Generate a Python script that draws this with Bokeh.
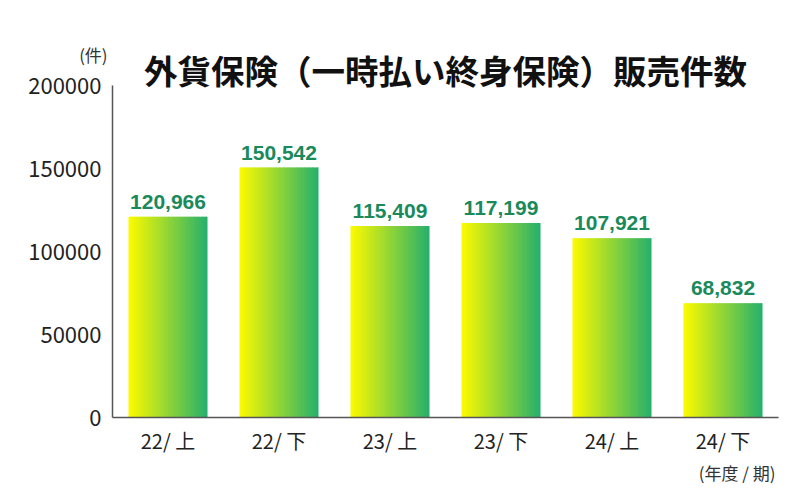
from bokeh.plotting import figure
from bokeh.models import (ColumnDataSource, FactorRange, Title, LinearAxis,
                          FixedTicker, NumeralTickFormatter)
from bokeh.transform import dodge
from bokeh.embed import file_html
from bokeh.resources import INLINE

# ---- data ----
categories = ["22/ 上", "22/ 下", "23/ 上", "23/ 下", "24/ 上", "24/ 下"]
values = [120966, 150542, 115409, 117199, 107921, 68832]
value_labels = [f"{v:,}" for v in values]
y_ticks = [0, 50000, 100000, 150000, 200000]
title_text = "外貨保険（一時払い終身保険）販売件数"
y_unit = "(件)"
x_unit = "(年度 / 期)"

src = ColumnDataSource(dict(cat=categories, val=values, lab=value_labels))

p = figure(
    x_range=FactorRange(factors=categories, range_padding=0),
    y_range=(0, 200000),
    width=784, height=484,
    output_backend="svg", toolbar_location=None,
    min_border_left=112, min_border_right=6,
    min_border_top=85, min_border_bottom=65,
)
p.outline_line_color = None
p.xgrid.grid_line_color = None
p.ygrid.grid_line_color = None
p.background_fill_color = "white"
p.border_fill_color = "white"

# gradient bars built from thin stripes
N = 60
bar_w = 0.712
sw = bar_w / N
c0 = (252, 250, 0)
c1 = (38, 176, 108)
for i in range(N):
    t = i / (N - 1)
    col = "#%02x%02x%02x" % tuple(int(round(a + (b - a) * t)) for a, b in zip(c0, c1))
    off = -bar_w / 2 + (i + 0.5) * sw
    w = sw * 1.6 if i < N - 1 else sw
    p.vbar(x=dodge("cat", off + (w - sw) / 2, range=p.x_range), top="val", width=w,
           source=src, fill_color=col, line_color=None)

# value labels
p.text(x="cat", y="val", text="lab", source=src, text_align="center",
       text_baseline="bottom", y_offset=-8, text_color="#1a8a5c",
       text_font_size="21px", text_font_style="bold",
       text_font={"value": "Liberation Sans"})

# axes
for ax in (p.xaxis, p.yaxis):
    ax.axis_line_color = "#555555"
    ax.axis_line_width = 1.5
    ax.major_tick_line_color = None
    ax.minor_tick_line_color = None
    ax.major_label_text_color = "#222222"
    ax.major_label_text_font = "Noto Sans CJK JP"
p.yaxis.ticker = FixedTicker(ticks=y_ticks)
p.yaxis.formatter = NumeralTickFormatter(format="0")
p.yaxis.major_label_text_font_size = "22px"
p.yaxis.major_label_standoff = 5
p.xaxis.major_label_text_font_size = "20px"
p.xaxis.major_label_standoff = 2

# top panel: unit note "(件)" as a tick label at the frame's left edge, title as axis label
pad = "\u3000\u3000\u2005"  # non-collapsing spaces shift the centred note to the left
top = LinearAxis(ticker=FixedTicker(ticks=[0]), major_label_overrides={0: y_unit + pad})
top.axis_line_color = None
top.major_tick_line_color = None
top.minor_tick_line_color = None
top.major_label_standoff = 13
top.major_label_text_font = "Noto Sans CJK JP"
top.major_label_text_font_size = "17px"
top.major_label_text_color = "#333333"
top.axis_label = title_text
top.axis_label_text_font = "Noto Sans CJK JP"
top.axis_label_text_font_style = "bold"
top.axis_label_text_font_size = "33.5px"
top.axis_label_text_color = "#111111"
top.axis_label_standoff = -55
p.add_layout(top, "above")

p.add_layout(Title(text=x_unit, align="right", offset=3,
                   text_font="Noto Sans CJK JP", text_font_style="normal",
                   text_font_size="17px", text_color="#333333", standoff=0), "below")

open("out.html", "w").write(file_html(p, INLINE))
